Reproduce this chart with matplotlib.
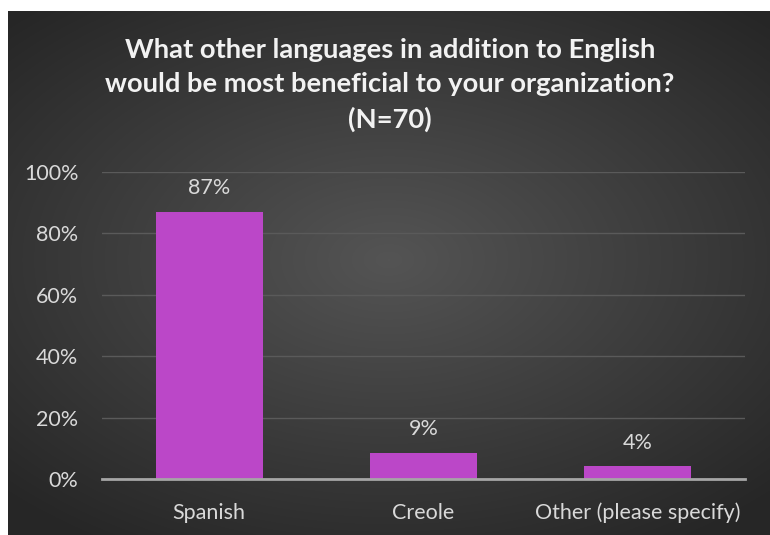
import numpy as np
import matplotlib.pyplot as plt
from matplotlib.ticker import PercentFormatter

plt.rcParams['font.family'] = ['Lato', 'DejaVu Sans']

categories = ["Spanish", "Creole", "Other (please specify)"]
shares = [87.1, 8.6, 4.3]   # percent of N=70 respondents
title = "What other languages in addition to English\nwould be most beneficial to your organization?\n(N=70)"

W, H = 770, 535
fig = plt.figure(figsize=(W / 100, H / 100), dpi=100, facecolor="white")

# dark panel with a soft radial gradient
bg = fig.add_axes([8 / W, 0, 762 / W, 524 / H])
gx, gy = np.meshgrid(np.linspace(-1, 1, 400), np.linspace(-1, 1, 300))
r = np.sqrt((gx * 0.95) ** 2 + ((gy + 0.05) * 1.05) ** 2)
shade = 0.33 - 0.18 * np.clip(r, 0, 1.35) / 1.35
bg.imshow(np.dstack([shade] * 3), aspect="auto", extent=[0, 1, 0, 1], interpolation="bilinear")
bg.set_axis_off()

ax = fig.add_axes([102 / W, 56 / H, 643 / W, 307 / H])
ax.patch.set_alpha(0)
x = np.arange(len(categories))
bars = ax.bar(x, shares, width=0.5, color="#BB47C8", zorder=3)

for b, v in zip(bars, shares):
    ax.text(b.get_x() + b.get_width() / 2, v + 4.3, f"{v:.0f}%", ha="center", va="bottom",
            color="#D9D9D9", fontsize=15.5)

ax.set_xlim(-0.5, len(categories) - 0.5)
ax.set_ylim(0, 100)
ax.set_yticks(np.arange(0, 101, 20))
ax.yaxis.set_major_formatter(PercentFormatter(decimals=0))
ax.set_xticks(x)
ax.set_xticklabels(categories)
ax.tick_params(axis="both", length=0, colors="#D9D9D9", labelsize=15.5)
ax.tick_params(axis="y", pad=17)
ax.tick_params(axis="x", pad=17)

ax.grid(axis="y", color="#5A5A5A", linewidth=1, zorder=0)
for s in ["top", "right", "left"]:
    ax.spines[s].set_visible(False)
ax.spines["bottom"].set_color("#A6A6A6")
ax.spines["bottom"].set_linewidth(2)
ax.spines["bottom"].set_zorder(4)

fig.text(390 / W, 1 - 85 / H, title, ha="center", va="center", fontsize=19.7,
         fontweight="bold", color="#F2F2F2", linespacing=1.48)

fig.savefig("out.png", dpi=100, facecolor="white")
